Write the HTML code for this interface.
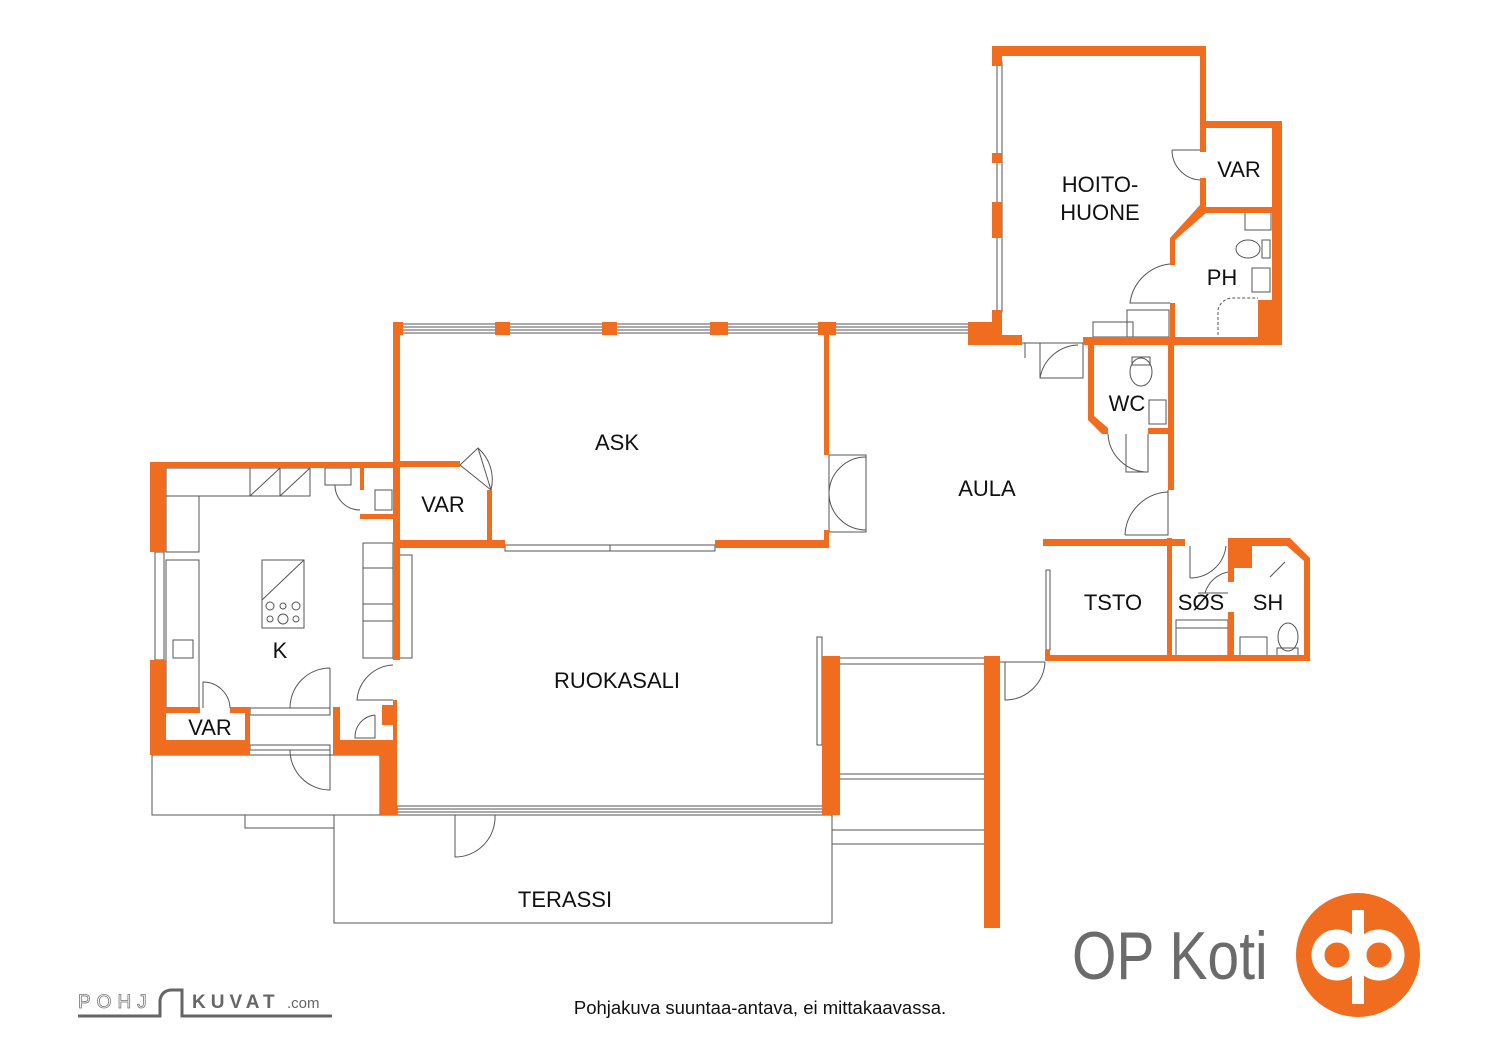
<!DOCTYPE html>
<html><head><meta charset="utf-8"><style>
html,body{margin:0;padding:0;background:#fff;}
svg{display:block;}
text{font-family:"Liberation Sans Narrow","Liberation Sans",sans-serif;fill:#111;}
</style></head><body>
<svg width="1500" height="1061" viewBox="0 0 1500 1061" xmlns="http://www.w3.org/2000/svg">
<g fill="none" stroke="#555" stroke-width="1">
<rect x="400" y="324" width="570" height="9"/>
<line x1="400" y1="327" x2="970" y2="327"/><line x1="400" y1="330" x2="970" y2="330"/>
<rect x="997" y="62" width="5" height="250"/>
<rect x="155" y="552" width="9" height="108"/>
<rect x="397" y="806" width="428" height="9"/>
<line x1="397" y1="809" x2="825" y2="809"/><line x1="397" y1="812" x2="825" y2="812"/>
<rect x="505" y="545" width="210" height="6"/>
<line x1="610" y1="545" x2="610" y2="551"/>
<rect x="829" y="455" width="37" height="77"/>
<path d="M829 493 A37 37 0 0 1 866 457 M829 493 A37 37 0 0 0 866 530"/>
<path d="M460 465 L478 448 L491 490 M460 465 L491 490 M478 448 A42 42 0 0 1 491 490"/>
<rect x="166" y="468" width="84" height="28"/>
<rect x="250" y="468" width="60" height="28"/>
<line x1="280" y1="468" x2="280" y2="496"/>
<path d="M250 496 L280 468 M280 496 L310 468"/>
<rect x="166" y="496" width="33" height="56"/>
<rect x="166" y="560" width="33" height="148"/>
<rect x="173" y="640" width="20" height="18"/>
<rect x="325" y="468" width="26" height="17"/>
<rect x="375" y="490" width="17" height="20"/>
<path d="M335 485 A25 25 0 0 0 360 510"/>
<rect x="262" y="560" width="42" height="68"/>
<path d="M262 600 L304 560"/>
<circle cx="270" cy="606" r="4"/><circle cx="283" cy="606" r="3"/><circle cx="296" cy="606" r="4"/>
<circle cx="270" cy="619" r="3"/><circle cx="283" cy="619" r="5"/><circle cx="296" cy="619" r="3"/>
<rect x="363" y="543" width="30" height="115"/>
<line x1="363" y1="568" x2="393" y2="568"/><line x1="363" y1="604" x2="393" y2="604"/><line x1="363" y1="621" x2="393" y2="621"/>
<rect x="398" y="555" width="14" height="103"/>
<path d="M203 708 L203 682 A27 27 0 0 1 230 708"/>
<path d="M330 668 L330 708 M290 708 A40 40 0 0 1 330 668"/>
<path d="M393 665 A38 38 0 0 0 357 700 L393 700"/>
<path d="M375 715 A22 22 0 0 0 355 738 L375 738 L375 715"/>
<rect x="250" y="708" width="80" height="7"/><rect x="250" y="745" width="80" height="5"/>
<path d="M290 750 L330 750 L330 790 A40 40 0 0 1 290 750"/>
<rect x="152" y="755" width="228" height="60"/>
<path d="M245 815 L245 828 L334 828"/>
<rect x="334" y="815" width="498" height="108"/>
<path d="M455 815 L455 857 A40 40 0 0 0 495 815"/>
<rect x="817" y="637" width="5" height="108"/>
<path d="M840 658 L985 658 M840 664 L985 664 M840 774 L985 774 M840 779 L985 779"/>
<rect x="832" y="830" width="153" height="14"/>
<path d="M1000 662 L1045 662 M1005 662 L1005 700 A40 40 0 0 0 1045 662"/>
<rect x="1046" y="570" width="4" height="80"/>
<path d="M1022 343 L1083 343 M1025 343 L1025 358 M1040 343 L1040 378 L1083 378 L1083 343 M1040 378 A40 40 0 0 1 1078 345"/>
<path d="M1126 434 L1126 472 L1148 472 L1148 434 M1108 434 A40 40 0 0 0 1148 472"/>
<path d="M1125 535 L1168 535 L1168 490 M1125 535 A45 45 0 0 1 1168 492"/>
<path d="M1170 264 A45 45 0 0 0 1130 303 L1170 303"/>
<path d="M1172 150 L1200 150 M1172 150 A30 30 0 0 0 1200 180"/>
<rect x="1093" y="322" width="40" height="15"/><rect x="1127" y="310" width="42" height="27"/>
<rect x="1245" y="212" width="26" height="18"/>
<ellipse cx="1248" cy="249" rx="12" ry="9"/><rect x="1262" y="240" width="8" height="18"/>
<rect x="1252" y="268" width="18" height="24"/>
<path d="M1218 335 L1218 310 A15 15 0 0 1 1232 298 L1258 298" stroke-dasharray="3 2"/>
<ellipse cx="1141" cy="372" rx="11" ry="14"/><rect x="1132" y="357" width="18" height="8"/>
<rect x="1149" y="400" width="17" height="24"/>
<path d="M1190 546 L1190 578 M1190 578 A36 36 0 0 0 1226 546 M1205 593 A30 30 0 0 1 1228 572 M1198 593 L1228 593"/>
<rect x="1176" y="620" width="52" height="36"/><line x1="1176" y1="628" x2="1228" y2="628"/>
<rect x="1240" y="637" width="27" height="20"/>
<ellipse cx="1288" cy="637" rx="10" ry="14"/><rect x="1277" y="648" width="21" height="9"/>
<path d="M1270 577 L1285 562"/>
</g>
<g fill="#f06c1f">
<rect x="150" y="462" width="16" height="90"/>
<rect x="150" y="660" width="16" height="95"/>
<rect x="150" y="462" width="245" height="6"/>
<rect x="395" y="461" width="65" height="6"/>
<rect x="360" y="466" width="4" height="24"/>
<rect x="360" y="514" width="38" height="5"/>
<rect x="166" y="707" width="34" height="6"/><rect x="230" y="707" width="20" height="6"/>
<rect x="150" y="740" width="100" height="15"/><rect x="245" y="707" width="5" height="48"/>
<rect x="333" y="707" width="7" height="48"/><rect x="333" y="740" width="60" height="15"/>
<rect x="380" y="740" width="17" height="75"/>
<rect x="393" y="322" width="7" height="338"/>
<rect x="382" y="705" width="15" height="20"/>
<rect x="393" y="700" width="4" height="40"/>
<rect x="393" y="322" width="10" height="13"/>
<rect x="495" y="322" width="15" height="13"/><rect x="602" y="322" width="15" height="13"/>
<rect x="710" y="322" width="18" height="13"/><rect x="818" y="322" width="18" height="13"/>
<rect x="968" y="322" width="34" height="23"/>
<rect x="824" y="334" width="5" height="121"/><rect x="824" y="530" width="5" height="18"/>
<rect x="395" y="540" width="110" height="8"/><rect x="715" y="540" width="114" height="8"/>
<rect x="487" y="490" width="5" height="55"/>
<rect x="822" y="656" width="18" height="159"/>
<rect x="984" y="656" width="16" height="272"/>
<rect x="1043" y="539" width="142" height="7"/>
<rect x="1167" y="538" width="5" height="122"/>
<rect x="1045" y="655" width="265" height="6"/><rect x="1045" y="650" width="5" height="10"/>
<rect x="1228" y="538" width="6" height="44"/><rect x="1228" y="612" width="6" height="48"/>
<path d="M1228 538 L1290 538 L1310 558 L1310 661 L1304 661 L1304 561 L1287 546 L1228 546Z"/>
<rect x="1234" y="546" width="18" height="22"/>
<rect x="1088" y="341" width="6" height="77"/>
<path d="M1088 416 L1094 416 L1108 428 L1108 434 L1102 434 L1088 420Z"/>
<rect x="1148" y="428" width="22" height="6"/>
<rect x="1168" y="341" width="6" height="149"/>
<rect x="1083" y="337" width="199" height="8"/>
<rect x="968" y="335" width="54" height="10"/>
<rect x="992" y="46" width="213" height="10"/>
<rect x="992" y="46" width="10" height="20"/>
<rect x="992" y="153" width="10" height="10"/><rect x="992" y="202" width="10" height="36"/>
<rect x="992" y="310" width="10" height="35"/>
<rect x="1200" y="46" width="6" height="106"/><rect x="1200" y="178" width="6" height="30"/>
<path d="M1200 205 L1206 205 L1206 213 L1175 240 L1175 265 L1170 265 L1170 238Z"/>
<rect x="1170" y="303" width="5" height="42"/>
<rect x="1200" y="121" width="82" height="7"/>
<rect x="1272" y="121" width="10" height="224"/>
<rect x="1205" y="207" width="70" height="6"/>
<rect x="1258" y="300" width="24" height="45"/>
</g>
<g font-size="22" text-anchor="middle">
<text x="617" y="450">ASK</text>
<text x="443" y="512">VAR</text>
<text x="280" y="658">K</text>
<text x="210" y="735">VAR</text>
<text x="617" y="688">RUOKASALI</text>
<text x="565" y="907">TERASSI</text>
<text x="987" y="496">AULA</text>
<text x="1100" y="192">HOITO-</text>
<text x="1100" y="220">HUONE</text>
<text x="1239" y="177">VAR</text>
<text x="1222" y="285">PH</text>
<text x="1127" y="411">WC</text>
<text x="1113" y="610">TSTO</text>
<text x="1201" y="610">SØS</text>
<text x="1268" y="610">SH</text>
</g>
<text x="760" y="1014" font-size="18.5" text-anchor="middle" style="font-family:'Liberation Sans',sans-serif">Pohjakuva suuntaa-antava, ei mittakaavassa.</text>
<text transform="translate(1072 979) scale(0.84 1)" x="0" y="0" font-size="68" style="fill:#6b6b6b;font-family:'Liberation Sans',sans-serif">OP Koti</text>
<circle cx="1358" cy="955" r="62" fill="#f06c1f"/>
<circle cx="1337" cy="955" r="19" fill="none" stroke="#fff" stroke-width="13"/>
<circle cx="1379" cy="955" r="19" fill="none" stroke="#fff" stroke-width="13"/>
<rect x="1352" y="910" width="12" height="94" fill="#fff"/>
<g>
<text x="78" y="1008" font-size="19" fill="none" stroke="#777" stroke-width="0.8" letter-spacing="6" style="fill:none;font-family:'Liberation Sans',sans-serif">POHJ</text>
<text x="192" y="1008" font-size="19" font-weight="bold" letter-spacing="5" style="fill:#666;font-family:'Liberation Sans',sans-serif">KUVAT</text>
<text x="287" y="1008" font-size="15" style="fill:#666;font-family:'Liberation Sans',sans-serif">.com</text>
<path d="M78 1016 L160 1016 L160 1000 Q162 990 172 990 L182 990 L182 1016 L332 1016" fill="none" stroke="#666" stroke-width="3"/>
</g>
</svg>
</body></html>
